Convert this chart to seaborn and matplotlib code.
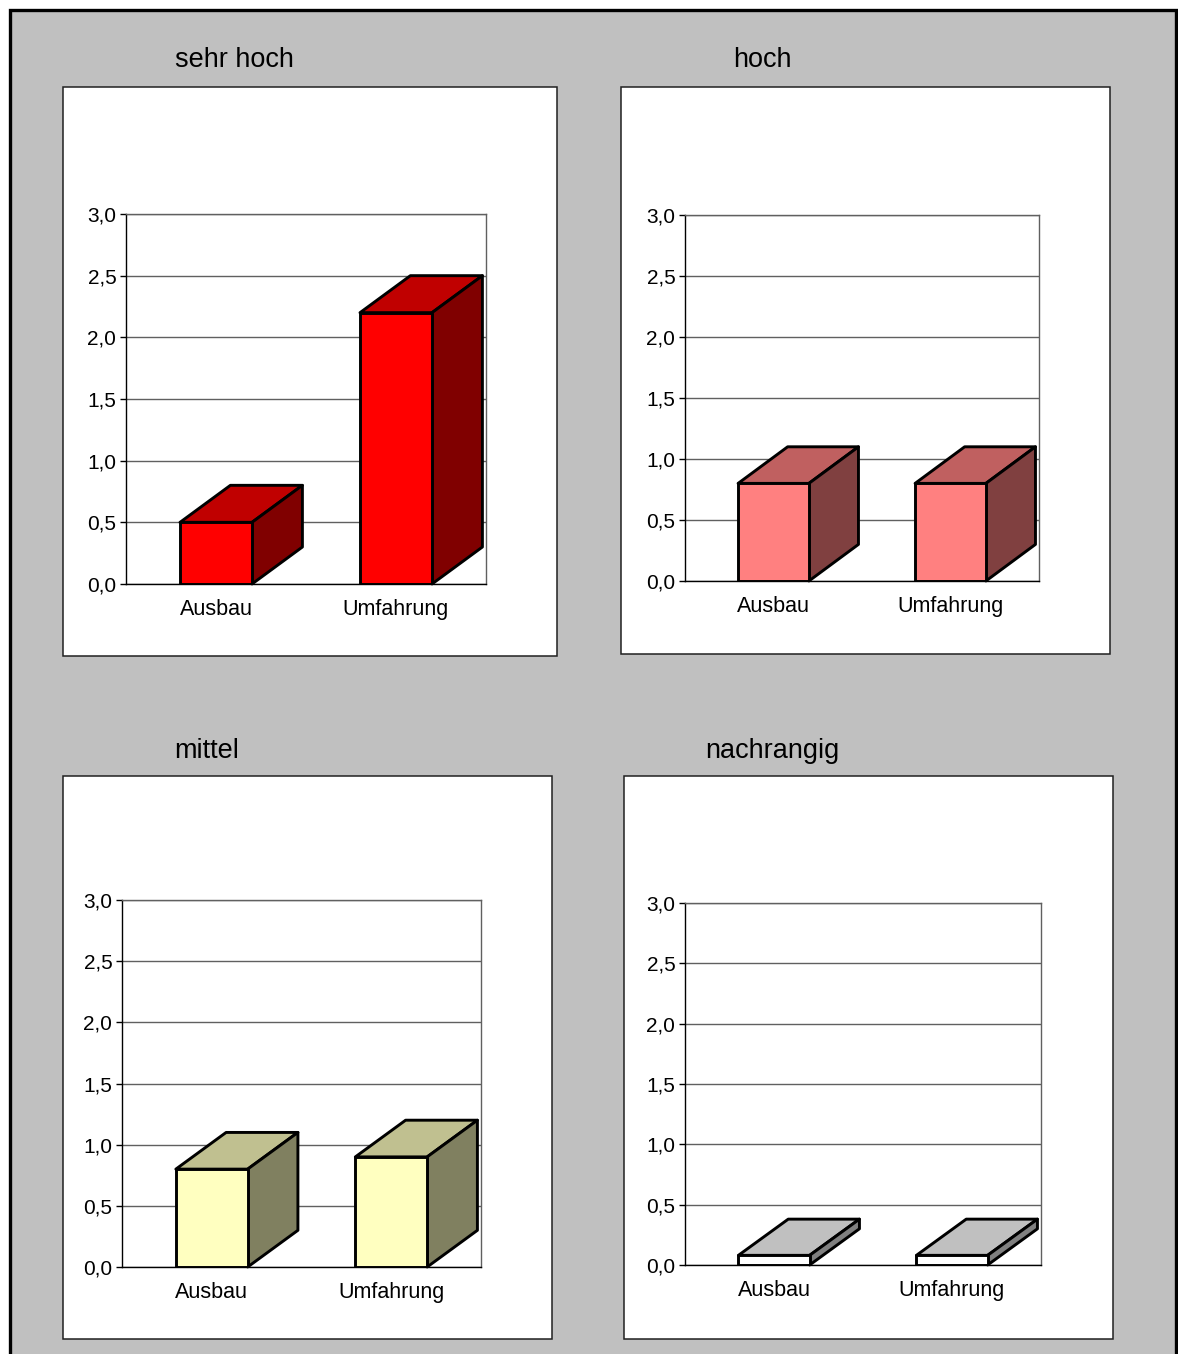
import numpy as np
import pandas as pd
import matplotlib
matplotlib.use('Agg')
import matplotlib.pyplot as plt
import seaborn as sns
from matplotlib.patches import Rectangle, Polygon
from matplotlib.ticker import FuncFormatter, FixedLocator

# data
categories = ['Ausbau', 'Umfahrung']
titles = ['sehr hoch', 'hoch', 'mittel', 'nachrangig']
sehr_hoch = [0.5, 2.2]
hoch = [0.8, 0.8]
mittel = [0.8, 0.9]
nachrangig = [0.08, 0.08]

W, H = 1178, 1354
sns.set_style('white')
plt.rcParams['font.family'] = ['Liberation Sans', 'DejaVu Sans']
plt.rcParams['text.color'] = 'black'


def fx(x):
    return x / W


def fy(y):
    return 1 - y / H


# (front, top, side) colours of the 3D boxes
palettes = [
    ('#FF0000', '#C00000', '#800000'),
    ('#FF8080', '#C06060', '#804040'),
    ('#FFFFC0', '#C0C090', '#808060'),
    ('#FFFFFF', '#C0C0C0', '#808080'),
]

# panel box, plot area, title position (pixels)
layout = [
    ((63, 87, 557, 656), (126, 214, 486, 584), (234, 60)),
    ((621, 87, 1110, 654), (685, 215, 1039, 581), (762, 60)),
    ((63, 776, 552, 1339), (122, 900, 481, 1267), (207, 751)),
    ((624, 776, 1113, 1339), (685, 903, 1041, 1265), (772, 751)),
]

fig = plt.figure(figsize=(W / 100, H / 100), dpi=100)
fig.patch.set_facecolor('white')

fig.add_artist(Rectangle((fx(10), fy(1370)), fx(1176) - fx(10), fy(10) - fy(1370),
                         transform=fig.transFigure, facecolor='#C0C0C0',
                         edgecolor='black', linewidth=2.4, zorder=0))

series = [sehr_hoch, hoch, mittel, nachrangig]
dx, dy = 0.28, 0.3
lw = 2.1

for vals, title, (front, top, side), (box, area, tpos) in zip(series, titles, palettes, layout):
    bx0, by0, bx1, by1 = box
    fig.add_artist(Rectangle((fx(bx0), fy(by1)), fx(bx1) - fx(bx0), fy(by0) - fy(by1),
                             transform=fig.transFigure, facecolor='white',
                             edgecolor='#202020', linewidth=1.1, zorder=1))
    fig.text(fx(tpos[0]), fy(tpos[1]), title, ha='center', va='center',
             fontsize=19.5, color='black', zorder=2)

    ax0, ay0, ax1, ay1 = area
    ax = fig.add_axes([fx(ax0), fy(ay1), fx(ax1) - fx(ax0), fy(ay0) - fy(ay1)])
    ax.set_zorder(3)
    ax.patch.set_alpha(0)

    df = pd.DataFrame({'Massnahme': categories, 'Wert': vals})
    sns.barplot(data=df, x='Massnahme', y='Wert', ax=ax, color=front,
                saturation=1, width=0.4, edgecolor='black', linewidth=lw,
                errorbar=None, zorder=3)

    for p in ax.patches[:len(vals)]:
        p.set_facecolor(front)
        x0, w, h = p.get_x(), p.get_width(), p.get_height()
        top_poly = [(x0, h), (x0 + w, h), (x0 + w + dx, h + dy), (x0 + dx, h + dy)]
        side_poly = [(x0 + w, 0), (x0 + w + dx, dy), (x0 + w + dx, h + dy), (x0 + w, h)]
        ax.add_patch(Polygon(top_poly, closed=True, facecolor=top, edgecolor='black',
                             linewidth=lw, joinstyle='round', zorder=3, clip_on=False))
        ax.add_patch(Polygon(side_poly, closed=True, facecolor=side, edgecolor='black',
                             linewidth=lw, joinstyle='round', zorder=3, clip_on=False))
        p.set_joinstyle('round')
        p.set_zorder(4)

    ax.set_xlim(-0.5, 1.5)
    ax.set_ylim(0, 3)
    ax.set_yticks(np.arange(0, 3.01, 0.5))
    ax.yaxis.set_major_formatter(FuncFormatter(lambda v, _: f'{v:.1f}'.replace('.', ',')))
    ax.yaxis.grid(True, color='#606060', linewidth=1.0)
    ax.set_axisbelow(True)
    ax.set_xlabel('')
    ax.set_ylabel('')

    ax.xaxis.set_minor_locator(FixedLocator([-0.5, 0.5, 1.5]))
    ax.tick_params(axis='x', which='major', length=0, labelsize=15.5, pad=11,
                   labelcolor='black')
    ax.tick_params(axis='x', which='minor', direction='out', length=5, width=1, color='black')
    ax.tick_params(axis='y', direction='out', length=4, width=1, color='black',
                   labelsize=15, pad=3, left=True, labelcolor='black')

    for s in ['left', 'bottom']:
        ax.spines[s].set_color('black')
        ax.spines[s].set_linewidth(1.0)
    for s in ['top', 'right']:
        ax.spines[s].set_color('#606060')
        ax.spines[s].set_linewidth(1.0)

fig.savefig('out.png', dpi=100)
